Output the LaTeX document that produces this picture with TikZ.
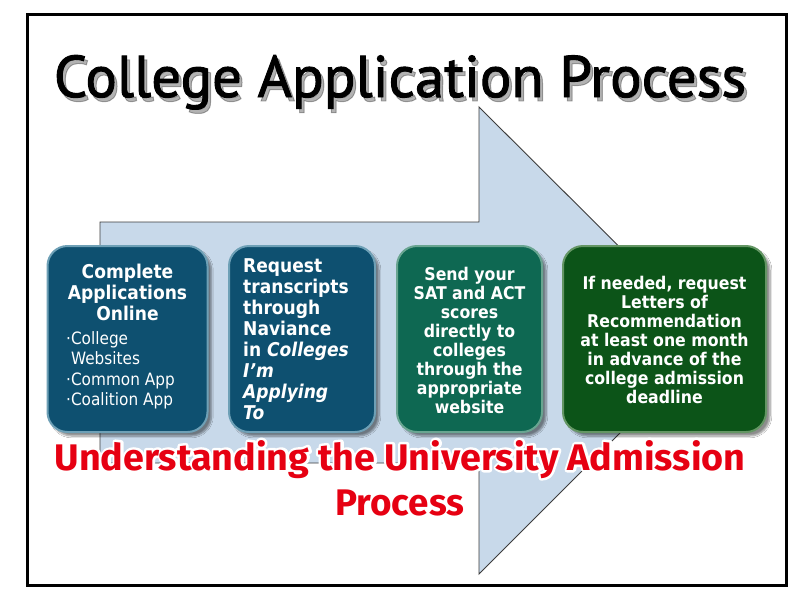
\documentclass[tikz,border=0pt]{standalone}
\usepackage{fontspec}
\usetikzlibrary{shadows.blur}
\newfontfamily\boxfont{DejaVu Sans}[FakeStretch=0.9]
\newfontfamily\titlefont{PT Sans}[FakeBold=1.6]
\newfontfamily\redfont{Fira Sans}
\definecolor{bluebox}{RGB}{14,80,112}
\definecolor{bluerim}{RGB}{110,160,182}
\definecolor{tealbox}{RGB}{14,104,82}
\definecolor{tealrim}{RGB}{105,165,145}
\definecolor{greenbox}{RGB}{12,84,24}
\definecolor{greenrim}{RGB}{100,150,100}
\definecolor{arrowfill}{RGB}{200,217,234}
\definecolor{arrowline}{RGB}{60,60,60}
\definecolor{redtext}{RGB}{230,0,18}
\tikzset{
  stepbox/.style={rounded corners=20pt, line width=2pt, inner sep=0pt,
    blur shadow={shadow xshift=4pt, shadow yshift=-4pt, shadow blur steps=8, shadow opacity=45}},
  boxtext/.style={text=white, inner sep=0pt, font=\boxfont\bfseries\fontsize{17.5}{19}\selectfont},
  bigtext/.style={text=white, inner sep=0pt, font=\boxfont\bfseries\fontsize{19}{21}\selectfont},
  bullettext/.style={text=white, inner sep=0pt, align=left, font=\boxfont\fontsize{17}{20}\selectfont},
  titletext/.style={inner sep=0pt, anchor=base},
  redline/.style={inner sep=0pt, anchor=base, text=redtext, font=\redfont\bfseries\fontsize{37}{40}\selectfont}
}
\newcommand{\titlestr}{\resizebox{692pt}{!}{\titlefont College Application Process}}
\newcommand{\haloed}[1]{\leavevmode\rlap{\special{pdf:literal direct 2 Tr 5 w 1 j}\textcolor{white}{#1}\special{pdf:literal direct 0 Tr 1 w}}#1}
\newcommand{\redone}{\resizebox{691pt}{\height}{\haloed{Understanding the University Admission}}}
\newcommand{\redtwo}{\resizebox{129pt}{\height}{\haloed{Process}}}
\begin{document}
\begin{tikzpicture}[x=1pt,y=-1pt]
\useasboundingbox (0,0) rectangle (800,600);
\fill[white] (0,0) rectangle (800,600);
\draw[line width=3pt] (27,14) rectangle (786,585);
% title with soft shadow
\node[titletext, text=black, opacity=0.3] (titleshadow) at (403,101) {\titlestr};
\node[titletext] (title) at (400,97) {\titlestr};
% big arrow
\draw[arrowline, fill=arrowfill, line width=0.9pt, line join=miter]
  (100,222) -- (479,222) -- (479,107) -- (713,340) -- (479,574) -- (479,463) -- (100,463) -- cycle;
% boxes
\node[stepbox, fill=bluebox, draw=bluerim, minimum width=160pt, minimum height=186pt] (b1) at (127.5,339) {};
\node[stepbox, fill=bluebox, draw=bluerim, minimum width=146pt, minimum height=186pt] (b2) at (302,339) {};
\node[stepbox, fill=tealbox, draw=tealrim, minimum width=145pt, minimum height=186pt] (b3) at (469.5,339) {};
\node[stepbox, fill=greenbox, draw=greenrim, minimum width=203pt, minimum height=186pt] (b4) at (664.5,339) {};
% box texts
\node[bigtext, align=center] (t1a) at (127.5,292) {Complete\\Applications\\Online};
\node[bullettext, anchor=west] (t1b) at (66,370) {·College\\\hphantom{·}Websites\\[1pt]·Common App\\·Coalition App};
\node[bigtext, align=left, anchor=west] (t2) at (243,339) {Request\\transcripts\\through\\Naviance\\in \textit{Colleges}\\\textit{I’m}\\\textit{Applying}\\\textit{To}};
\node[boxtext, align=center] (t3) at (469.5,340) {Send your\\SAT and ACT\\scores\\directly to\\colleges\\through the\\appropriate\\website};
\node[boxtext, align=center] (t4) at (664.5,340) {If needed, request\\Letters of\\Recommendation\\at least one month\\in advance of the\\college admission\\deadline};
% red caption with white halo
\node[redline] (cap1) at (400,470) {\redone};
\node[redline] (cap2) at (400,515) {\redtwo};
\end{tikzpicture}
\end{document}
